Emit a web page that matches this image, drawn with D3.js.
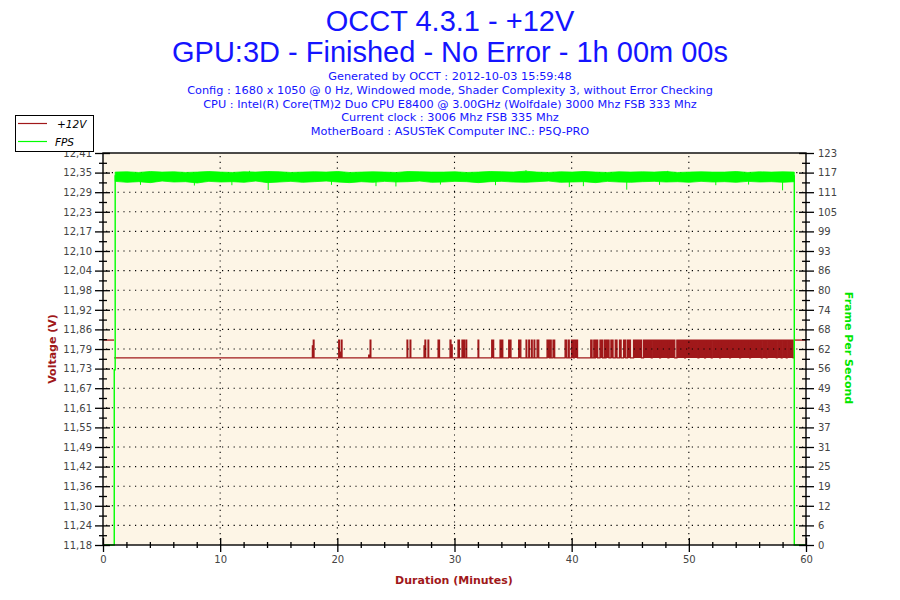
<!DOCTYPE html>
<html>
<head>
<meta charset="utf-8">
<script src="https://d3js.org/d3.v7.min.js"></script>
<style>
  body { margin: 0; background: #fff; }
  svg { display: block; }
  .tick text { font-family: 'DejaVu Sans', sans-serif; font-size: 10px; fill: #444; }
</style>
</head>
<body>
<svg id="chart" width="900" height="600"></svg>
<script>
/* global d3 */
const titleLines = ['OCCT 4.3.1 - +12V', 'GPU:3D - Finished - No Error - 1h 00m 00s']
const infoLines = [
  'Generated by OCCT : 2012-10-03 15:59:48',
  'Config : 1680 x 1050 @ 0 Hz, Windowed mode, Shader Complexity 3, without Error Checking',
  'CPU : Intel(R) Core(TM)2 Duo CPU E8400 @ 3.00GHz (Wolfdale) 3000 Mhz FSB 333 Mhz',
  'Current clock : 3006 Mhz FSB 335 Mhz',
  'MotherBoard : ASUSTeK Computer INC.: P5Q-PRO'
]

// axis labels as printed by OCCT (top to bottom)
const voltLabels = ['12,41', '12,35', '12,29', '12,23', '12,17', '12,10', '12,04', '11,98', '11,92', '11,86',
  '11,79', '11,73', '11,67', '11,61', '11,55', '11,49', '11,42', '11,36', '11,30', '11,24', '11,18']
const fpsLabels = ['123', '117', '111', '105', '99', '93', '86', '80', '74', '68',
  '62', '56', '49', '43', '37', '31', '25', '19', '12', '6', '0']
const minuteTicks = [0, 10, 20, 30, 40, 50, 60]

const voltDomain = [11.18, 12.41]
const fpsDomain = [0, 123]
const voltBase = 11.767
const voltIdle = 11.823

// +12V idle readings before / after the test [from minute, to minute]
const voltIdleSpans = [[0, 0.95], [58.97, 60]]
// +12V readings above the base level during the test: [from minute, to minute, volts]
const voltSegs = [
  [17.87, 17.93, 11.805], [17.95, 18.01, 11.823],
  [20.12, 20.18, 11.823], [20.23, 20.29, 11.785], [20.34, 20.40, 11.823],
  [22.68, 22.74, 11.776], [22.80, 22.86, 11.823],
  [25.95, 26.01, 11.823], [26.21, 26.27, 11.823],
  [27.40, 27.46, 11.805], [27.48, 27.54, 11.823], [27.74, 27.80, 11.823],
  [28.60, 28.72, 11.823],
  [29.62, 29.70, 11.823], [29.74, 29.80, 11.808],
  [30.30, 30.42, 11.823], [30.64, 30.70, 11.823], [30.79, 30.85, 11.823], [30.98, 31.04, 11.823],
  [32.01, 32.07, 11.823],
  [33.18, 33.34, 11.823], [33.89, 33.95, 11.823], [34.06, 34.12, 11.823],
  [34.63, 34.82, 11.823], [35.48, 35.66, 11.823],
  [36.11, 36.17, 11.823], [36.34, 36.40, 11.823], [36.57, 36.63, 11.823], [36.79, 36.85, 11.823],
  [37.05, 37.19, 11.823],
  [37.90, 38.09, 11.823], [38.19, 38.25, 11.823], [38.41, 38.55, 11.823],
  [39.44, 39.58, 11.823], [39.73, 39.79, 11.823],
  [39.98, 40.15, 11.823], [40.22, 40.50, 11.823],
  [41.63, 41.74, 11.823], [41.89, 41.95, 11.823], [42.03, 42.22, 11.823],
  [42.42, 42.63, 11.823], [42.78, 42.88, 11.823], [42.93, 43.19, 11.823], [43.35, 43.53, 11.823],
  [43.72, 43.87, 11.823], [44.08, 44.22, 11.823], [44.43, 44.62, 11.823], [44.77, 45.02, 11.823],
  [45.28, 45.96, 11.823], [46.13, 46.80, 11.823], [46.87, 47.51, 11.823], [47.58, 48.22, 11.823],
  [48.29, 48.80, 11.823], [48.98, 49.64, 11.823], [49.71, 50.78, 11.823], [50.85, 51.35, 11.823],
  [51.42, 51.92, 11.823], [51.99, 52.63, 11.823], [52.70, 53.48, 11.823], [53.55, 54.34, 11.823],
  [54.41, 55.19, 11.823], [55.26, 56.19, 11.823], [56.26, 56.61, 11.823], [56.68, 57.47, 11.823],
  [57.54, 57.89, 11.823], [57.96, 58.32, 11.823], [58.39, 58.90, 11.823]
]

// FPS: start-up and shut-down steps [minute, fps]
const fpsStart = [[0, 0], [0.96, 0], [0.96, 55], [1.04, 55], [1.04, 116]]
const fpsEnd = [[59.0, 116], [59.0, 0], [60, 0]]
// FPS band during the run, one reading per minute (from minute 1)
const fpsHigh = [117.0, 117.1, 116.9, 117.2, 117.0, 117.1, 116.9, 117.0, 117.2, 117.0,
  116.9, 117.1, 117.0, 117.2, 117.1, 116.9, 117.0, 117.1, 117.0, 117.2,
  116.9, 117.0, 117.1, 117.0, 116.9, 117.2, 117.1, 117.0, 117.0, 117.1,
  116.9, 117.0, 117.2, 117.1, 117.0, 117.3, 117.0, 116.9, 117.1, 117.0,
  117.2, 117.0, 116.9, 117.1, 117.0, 117.1, 117.0, 117.2, 116.9, 117.0,
  117.1, 117.0, 117.0, 117.2, 116.9, 117.1, 117.0, 117.1, 117.0]
const fpsLow = [114.1, 113.8, 114.0, 113.7, 114.2, 113.9, 114.0, 113.6, 114.1, 113.9,
  114.0, 113.8, 114.2, 113.7, 113.9, 114.1, 113.8, 114.0, 114.2, 113.9,
  113.7, 114.0, 113.8, 114.1, 113.9, 114.0, 114.2, 113.8, 113.9, 114.1,
  114.0, 113.7, 114.0, 114.1, 113.9, 113.8, 114.0, 114.2, 113.8, 113.9,
  114.0, 113.7, 114.1, 113.9, 113.8, 114.0, 114.1, 113.9, 114.0, 113.8,
  114.1, 113.9, 114.0, 113.8, 114.1, 113.9, 114.0, 113.8, 114.0]
// single low / high FPS readings [minute, fps]
const fpsDips = [[3.2, 113.0], [7.8, 112.8], [11.0, 112.9], [14.1, 111.4], [19.5, 113.0],
  [23.3, 112.6], [25.0, 112.5], [28.8, 113.1], [33.5, 112.9], [39.8, 112.3],
  [41.0, 112.6], [44.7, 111.5], [47.5, 113.0], [52.3, 112.9], [55.1, 113.1], [58.0, 111.3]]
const fpsPeaks = [[12.5, 117.4], [36.1, 117.6], [48.2, 117.4]]

const red = '#a0181a'
const green = '#00ff00'
const blue = '#1414ff'

const svg = d3.select('#chart')
const margin = { top: 153, right: 806, bottom: 545, left: 103 }

const x = d3.scaleLinear().domain([0, 60]).range([margin.left, margin.right])
const yV = d3.scaleLinear().domain(voltDomain).range([margin.bottom, margin.top])
const yF = d3.scaleLinear().domain(fpsDomain).range([margin.bottom, margin.top])

// evenly spaced label positions along each axis
const nTicks = voltLabels.length
const voltTickPos = d3.range(nTicks).map(i => voltDomain[1] - i * (voltDomain[1] - voltDomain[0]) / (nTicks - 1))
const fpsTickPos = d3.range(nTicks).map(i => fpsDomain[1] - i * (fpsDomain[1] - fpsDomain[0]) / (nTicks - 1))
const voltMinor = voltTickPos.slice(1).map((d, i) => (d + voltTickPos[i]) / 2)
const fpsMinor = fpsTickPos.slice(1).map((d, i) => (d + fpsTickPos[i]) / 2)
const minuteMinor = d3.range(0, 61, 2).filter(d => d % 10 !== 0)

// titles
svg.selectAll('text.title')
  .data(titleLines)
  .join('text')
  .attr('class', 'title')
  .attr('x', 450)
  .attr('y', (d, i) => 31 + i * 31)
  .attr('text-anchor', 'middle')
  .attr('font-family', "'Liberation Sans', Arial, sans-serif")
  .attr('font-size', 29)
  .attr('fill', blue)
  .text(d => d)

svg.selectAll('text.info')
  .data(infoLines)
  .join('text')
  .attr('class', 'info')
  .attr('x', 450)
  .attr('y', (d, i) => 80 + i * 13.8)
  .attr('text-anchor', 'middle')
  .attr('font-family', "'DejaVu Sans', sans-serif")
  .attr('font-size', 11.3)
  .attr('fill', blue)
  .text(d => d)

// plot background
svg.append('rect')
  .attr('x', margin.left)
  .attr('y', margin.top)
  .attr('width', margin.right - margin.left)
  .attr('height', margin.bottom - margin.top)
  .attr('fill', '#fdf5e6')

// voltage during the test as filled steps
const testStart = voltIdleSpans[0][1]
const testEnd = voltIdleSpans[1][0]
const voltPts = []
let cursor = testStart
voltSegs.forEach(([a, b, v]) => {
  if (a > cursor) voltPts.push({ t: cursor, v: voltBase })
  voltPts.push({ t: a, v })
  cursor = b
})
voltPts.push({ t: cursor, v: voltBase })
voltPts.push({ t: testEnd, v: voltBase })

svg.append('path')
  .datum(voltPts)
  .attr('fill', red)
  .attr('d', d3.area().curve(d3.curveStepAfter)
    .x(d => x(d.t)).y0(yV(voltBase)).y1(d => yV(d.v)))

const voltLine = d3.line().curve(d3.curveStepAfter).x(d => x(d.t)).y(d => yV(d.v))
svg.append('path')
  .datum(voltPts)
  .attr('fill', 'none')
  .attr('stroke', red)
  .attr('stroke-width', 1.3)
  .attr('d', voltLine)

voltIdleSpans.forEach(([a, b]) => {
  svg.append('path')
    .datum([{ t: a, v: voltIdle }, { t: b, v: voltIdle }])
    .attr('fill', 'none')
    .attr('stroke', red)
    .attr('stroke-width', 1.3)
    .attr('d', d3.line().x(d => x(d.t)).y(d => yV(d.v)))
})

// dotted grid
const grid = svg.append('g')
  .attr('stroke', '#000')
  .attr('stroke-width', 1.1)
  .attr('stroke-dasharray', '1.2,4.6')
grid.selectAll('line.h')
  .data(voltTickPos.slice(1, -1))
  .join('line')
  .attr('x1', margin.left + 3).attr('x2', margin.right)
  .attr('y1', d => yV(d)).attr('y2', d => yV(d))
grid.selectAll('line.v')
  .data(minuteTicks.slice(1, -1))
  .join('line')
  .attr('x1', d => x(d)).attr('x2', d => x(d))
  .attr('y1', margin.top + 3).attr('y2', margin.bottom)

// FPS band and edges
const bandPts = fpsHigh.map((h, i) => ({ t: Math.min(1.04 + i, 59.0), hi: h, lo: fpsLow[i] }))
svg.append('path')
  .datum(bandPts)
  .attr('fill', green)
  .attr('stroke', green)
  .attr('stroke-width', 0.8)
  .attr('d', d3.area().x(d => x(d.t)).y0(d => yF(d.lo)).y1(d => yF(d.hi)))

svg.append('g')
  .selectAll('line')
  .data(fpsDips.concat(fpsPeaks))
  .join('line')
  .attr('x1', d => x(d[0])).attr('x2', d => x(d[0]))
  .attr('y1', yF(115.5)).attr('y2', d => yF(d[1]))
  .attr('stroke', green)
  .attr('stroke-width', 1)

const fpsLine = d3.line().x(d => x(d[0])).y(d => yF(d[1]))
;[fpsStart, fpsEnd].forEach(pts => {
  svg.append('path')
    .datum(pts)
    .attr('fill', 'none')
    .attr('stroke', green)
    .attr('stroke-width', 1.4)
    .attr('d', fpsLine)
})

// axes
function styleTicks (g, a, b, horiz) {
  g.select('.domain').remove()
  g.selectAll('.tick line')
    .attr('stroke', '#000')
    .attr('stroke-width', 1.3)
    .attr(horiz ? 'y1' : 'x1', a)
    .attr(horiz ? 'y2' : 'x2', b)
}

svg.append('g')
  .attr('transform', `translate(${margin.left},0)`)
  .call(d3.axisLeft(yV).tickValues(voltTickPos).tickSize(8).tickPadding(3)
    .tickFormat((d, i) => voltLabels[i]))
  .call(g => styleTicks(g, 7, -8, false))
svg.append('g')
  .attr('transform', `translate(${margin.left},0)`)
  .call(d3.axisLeft(yV).tickValues(voltMinor).tickSize(4).tickFormat(''))
  .call(g => styleTicks(g, 4, -4, false))

svg.append('g')
  .attr('transform', `translate(${margin.right},0)`)
  .call(d3.axisRight(yF).tickValues(fpsTickPos).tickSize(8).tickPadding(4)
    .tickFormat((d, i) => fpsLabels[i]))
  .call(g => styleTicks(g, -7, 8, false))
svg.append('g')
  .attr('transform', `translate(${margin.right},0)`)
  .call(d3.axisRight(yF).tickValues(fpsMinor).tickSize(4).tickFormat(''))
  .call(g => styleTicks(g, -4, 4, false))

svg.append('g')
  .attr('transform', `translate(0,${margin.bottom})`)
  .call(d3.axisBottom(x).tickValues(minuteTicks).tickSize(7).tickPadding(4).tickFormat(d3.format('d')))
  .call(g => styleTicks(g, -7, 7, true))
svg.append('g')
  .attr('transform', `translate(0,${margin.bottom})`)
  .call(d3.axisBottom(x).tickValues(minuteMinor).tickSize(3).tickFormat(''))
  .call(g => styleTicks(g, -3, 3, true))

// frame
svg.append('rect')
  .attr('x', margin.left)
  .attr('y', margin.top)
  .attr('width', margin.right - margin.left)
  .attr('height', margin.bottom - margin.top)
  .attr('fill', 'none')
  .attr('stroke', '#000')
  .attr('stroke-width', 1.4)

// axis titles
const axisFont = "'DejaVu Sans', sans-serif"
svg.append('text')
  .attr('transform', 'translate(52,349) rotate(-90)')
  .attr('text-anchor', 'middle')
  .attr('dominant-baseline', 'central')
  .attr('font-family', axisFont)
  .attr('font-weight', 'bold')
  .attr('font-size', 11)
  .attr('fill', red)
  .text('Voltage (V)')

svg.append('text')
  .attr('x', 454)
  .attr('y', 580)
  .attr('text-anchor', 'middle')
  .attr('dominant-baseline', 'central')
  .attr('font-family', axisFont)
  .attr('font-weight', 'bold')
  .attr('font-size', 11)
  .attr('fill', red)
  .text('Duration (Minutes)')

svg.append('text')
  .attr('transform', 'translate(848,348) rotate(90)')
  .attr('text-anchor', 'middle')
  .attr('dominant-baseline', 'central')
  .attr('font-family', axisFont)
  .attr('font-weight', 'bold')
  .attr('font-size', 11)
  .attr('fill', '#00e600')
  .text('Frame Per Second')

// legend (drawn over the top voltage label, as in OCCT)
const legend = svg.append('g')
legend.append('rect')
  .attr('x', 15.5).attr('y', 115.5)
  .attr('width', 78).attr('height', 36)
  .attr('fill', '#fff')
  .attr('stroke', '#000')
  .attr('stroke-width', 1)
const legendItems = [{ l: '+12V', c: red, y: 123.5 }, { l: 'FPS', c: green, y: 141.5 }]
legendItems.forEach(d => {
  legend.append('line')
    .attr('x1', 18).attr('x2', 47)
    .attr('y1', d.y).attr('y2', d.y)
    .attr('stroke', d.c)
    .attr('stroke-width', 1.2)
  legend.append('text')
    .attr('x', d.l === 'FPS' ? 55 : 57)
    .attr('y', d.y)
    .attr('dominant-baseline', 'central')
    .attr('font-family', axisFont)
    .attr('font-style', 'italic')
    .attr('font-size', 10.5)
    .attr('fill', '#000')
    .text(d.l)
})
</script>
</body>
</html>
